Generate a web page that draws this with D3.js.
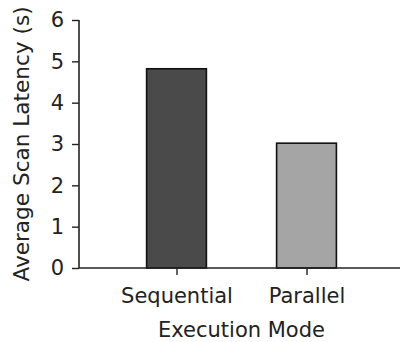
<!DOCTYPE html>
<html>
<head>
<meta charset="utf-8">
<script src="https://cdn.jsdelivr.net/npm/d3@7"></script>
<style>
  body { margin: 0; background: #fff; }
  text { font-family: "DejaVu Sans", sans-serif; fill: #222; }
</style>
</head>
<body>
<div class="chart"></div>
<script>
const categories = ['Sequential', 'Parallel'];
const latency = [4.82, 3.02];
const barColors = ['#4a4a4a', '#a5a5a5'];
const yTicks = [0, 1, 2, 3, 4, 5, 6];

const width = 400;
const height = 342;
const margin = { top: 20, right: 0, bottom: 74, left: 79 };
const fontSize = '21px';

const svg = d3.select('.chart')
    .append('svg')
    .attr('width', width)
    .attr('height', height);

// category positions: index -> pixel
const x = d3.scaleLinear()
    .domain([-0.75, 2.4])
    .range([margin.left, margin.left + 3.15 * 130]);

const y = d3.scaleLinear()
    .domain([0, 6])
    .range([height - margin.bottom, margin.top]);

const barW = x(0.46) - x(0);

svg.selectAll('rect.bar')
    .data(latency)
    .enter().append('rect')
    .attr('class', 'bar')
    .attr('x', (d, i) => x(i) - barW / 2)
    .attr('y', d => y(d))
    .attr('width', barW)
    .attr('height', d => y(0) - y(d))
    .attr('fill', (d, i) => barColors[i])
    .attr('stroke', '#111')
    .attr('stroke-width', 1.6);

// y axis
const yAxis = svg.append('g')
    .attr('transform', `translate(${margin.left},0)`)
    .call(d3.axisLeft(y).tickValues(yTicks).tickFormat(d3.format('d')).tickSize(7).tickPadding(8));

// x axis
const xAxis = svg.append('g')
    .attr('transform', `translate(0,${y(0)})`)
    .call(d3.axisBottom(x).tickValues([0, 1]).tickFormat(i => categories[i]).tickSize(7).tickPadding(13));

[yAxis, xAxis].forEach(g => {
    g.select('.domain').attr('stroke', '#222').attr('stroke-width', 1.6);
    g.selectAll('.tick line').attr('stroke', '#222').attr('stroke-width', 1.4);
    g.selectAll('.tick text').attr('fill', '#222').style('font-size', fontSize);
});
yAxis.select('.domain').attr('d', `M0,${y(0)}V${y(6)}`);
xAxis.select('.domain').attr('d', `M${margin.left},0H${width}`);

svg.append('text')
    .attr('x', (x(0) + x(1)) / 2)
    .attr('y', 337)
    .attr('text-anchor', 'middle')
    .style('font-size', fontSize)
    .text('Execution Mode');

svg.append('text')
    .attr('transform', `translate(29,${(y(0) + y(6)) / 2}) rotate(-90)`)
    .attr('text-anchor', 'middle')
    .style('font-size', '21.6px')
    .text('Average Scan Latency (s)');
</script>
</body>
</html>
